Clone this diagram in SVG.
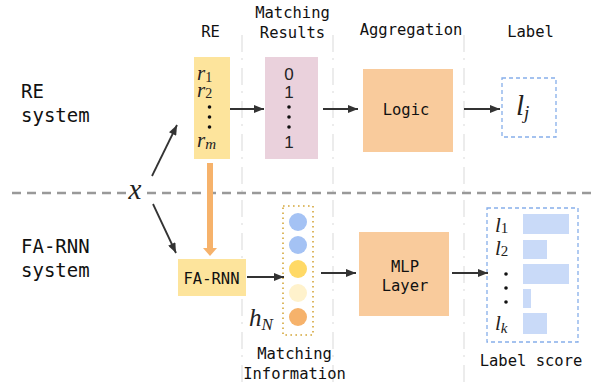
<svg xmlns="http://www.w3.org/2000/svg" width="592" height="383" viewBox="0 0 592 383">
<defs>
<marker id="ah" viewBox="0 0 10 8" refX="10" refY="4" markerWidth="11" markerHeight="8" markerUnits="userSpaceOnUse" orient="auto">
<path d="M0,0 L10,4 L0,8 Z" fill="#333"/>
</marker>
</defs>
<style>
.mono{font-family:"DejaVu Sans Mono",monospace;fill:#111}
.hdr{font-size:15.5px;text-anchor:middle}
.side{font-size:19px}
.math{font-family:"Liberation Serif","Times New Roman",serif;font-style:italic;fill:#222}
.sans{font-family:"Liberation Sans",Arial,sans-serif;fill:#222;font-size:17px;text-anchor:middle}
.sep{stroke:#ececec;stroke-width:2;stroke-dasharray:17 6 2 8;fill:none}
.arr{stroke:#333;stroke-width:1.8;fill:none;marker-end:url(#ah)}
.dot{fill:#111}
.bar{fill:#c9daf8}
</style>

<g id="separators">
<line class="sep" x1="242" y1="35" x2="242" y2="383"/>
<line class="sep" x1="333" y1="35" x2="333" y2="383"/>
<line class="sep" x1="464" y1="35" x2="464" y2="383"/>
<line x1="12" y1="193" x2="126" y2="193" stroke="#999" stroke-width="2.5" stroke-dasharray="9 6"/>
<line x1="147" y1="193" x2="592" y2="193" stroke="#999" stroke-width="2.5" stroke-dasharray="9 6"/>
</g>

<g id="headers">
<text class="mono hdr" x="210.5" y="37">RE</text>
<text class="mono hdr" x="292.5" y="18">Matching</text>
<text class="mono hdr" x="292.5" y="38">Results</text>
<text class="mono hdr" x="411" y="34.5">Aggregation</text>
<text class="mono hdr" x="530.5" y="37">Label</text>
</g>

<g id="side-labels">
<text class="mono side" x="21" y="98">RE</text>
<text class="mono side" x="21" y="121.5">system</text>
<text class="mono side" x="21" y="253">FA-RNN</text>
<text class="mono side" x="21" y="277">system</text>
</g>

<g id="input-x">
<text class="math" x="135" y="199" font-size="29" text-anchor="middle">x</text>
</g>

<g id="re-box">
<rect x="194" y="57" width="36" height="102" fill="#fde49c"/>
<text class="math" x="197" y="80" font-size="21">r<tspan font-size="14" font-style="normal" dy="2">1</tspan></text>
<text class="math" x="197" y="97" font-size="21">r<tspan font-size="14" font-style="normal" dy="1">2</tspan></text>
<circle class="dot" cx="209.5" cy="107" r="1.8"/>
<circle class="dot" cx="209.5" cy="117" r="1.8"/>
<circle class="dot" cx="209.5" cy="127" r="1.8"/>
<text class="math" x="197" y="147" font-size="21">r<tspan font-size="15" dy="2">m</tspan></text>
</g>

<g id="matching-results">
<rect x="265" y="57" width="53" height="102" fill="#ead1dc"/>
<text class="sans" x="289" y="80">0</text>
<text class="sans" x="289" y="98">1</text>
<circle class="dot" cx="289" cy="107" r="1.8"/>
<circle class="dot" cx="289" cy="117" r="1.8"/>
<circle class="dot" cx="289" cy="127" r="1.8"/>
<text class="sans" x="289" y="148">1</text>
</g>

<g id="logic">
<rect x="363" y="69" width="90" height="83" fill="#f9cb9c"/>
<text class="mono" x="406" y="115" font-size="15.5" text-anchor="middle">Logic</text>
</g>

<g id="label">
<rect x="502" y="78" width="54" height="59" fill="none" stroke="#86aeea" stroke-width="1.3" stroke-dasharray="4 3"/>
<text class="math" x="516" y="115" font-size="29">l<tspan font-size="19" dy="4">j</tspan></text>
</g>

<g id="fa-rnn">
<rect x="178" y="259" width="68" height="37" fill="#fde49c"/>
<text class="mono" x="211.5" y="284" font-size="15.5" text-anchor="middle">FA-RNN</text>
</g>

<g id="matching-information">
<rect x="283" y="206" width="30" height="129" fill="none" stroke="#d4a63a" stroke-width="1.6" stroke-dasharray="1.6 3.4"/>
<circle cx="298" cy="222" r="9" fill="#a4c2f4"/>
<circle cx="298" cy="245" r="9" fill="#a4c2f4"/>
<circle cx="298" cy="269" r="9" fill="#ffd966"/>
<circle cx="298" cy="293" r="9" fill="#fff2cc"/>
<circle cx="298" cy="317" r="9" fill="#f6b26b"/>
<text class="math" x="249" y="326" font-size="25">h<tspan font-size="17" dy="4">N</tspan></text>
<text class="mono" x="294.5" y="359" font-size="15.5" text-anchor="middle">Matching</text>
<text class="mono" x="294.5" y="379" font-size="15.5" text-anchor="middle">Information</text>
</g>

<g id="mlp">
<rect x="359" y="232" width="90" height="84" fill="#f9cb9c"/>
<text class="mono" x="405" y="272" font-size="15.5" text-anchor="middle">MLP</text>
<text class="mono" x="405" y="291" font-size="15.5" text-anchor="middle">Layer</text>
</g>

<g id="label-score">
<rect x="487" y="208" width="91" height="134" fill="none" stroke="#86aeea" stroke-width="1.3" stroke-dasharray="4 3"/>
<text class="math" x="495" y="232" font-size="21">l<tspan font-size="15" font-style="normal" dy="1">1</tspan></text>
<text class="math" x="495" y="255" font-size="21">l<tspan font-size="15" font-style="normal" dy="1">2</tspan></text>
<circle class="dot" cx="506" cy="274" r="1.8"/>
<circle class="dot" cx="506" cy="288" r="1.8"/>
<circle class="dot" cx="506" cy="302" r="1.8"/>
<text class="math" x="495" y="330" font-size="21">l<tspan font-size="15" dy="3">k</tspan></text>
<rect class="bar" x="523" y="214" width="46" height="20"/>
<rect class="bar" x="523" y="240" width="24" height="19"/>
<rect class="bar" x="523" y="264" width="46" height="20"/>
<rect class="bar" x="523" y="289" width="8" height="19"/>
<rect class="bar" x="523" y="313" width="24" height="21"/>
<text class="mono" x="531" y="366" font-size="15.5" text-anchor="middle">Label score</text>
</g>

<g id="connectors">
<line class="arr" x1="152" y1="176" x2="177" y2="125"/>
<line class="arr" x1="153" y1="204" x2="176" y2="253"/>
<line class="arr" x1="230" y1="109" x2="264" y2="109"/>
<line class="arr" x1="323" y1="109" x2="358" y2="109"/>
<line class="arr" x1="464" y1="109" x2="500" y2="109"/>
<line class="arr" x1="247" y1="277" x2="284" y2="277"/>
<line class="arr" x1="321" y1="273" x2="356" y2="273"/>
<line class="arr" x1="452" y1="273" x2="488" y2="273"/>
<path d="M207,163 H213 V248 H217 L210,256 L203,248 H207 Z" fill="#f6b26b"/>
</g>
</svg>
